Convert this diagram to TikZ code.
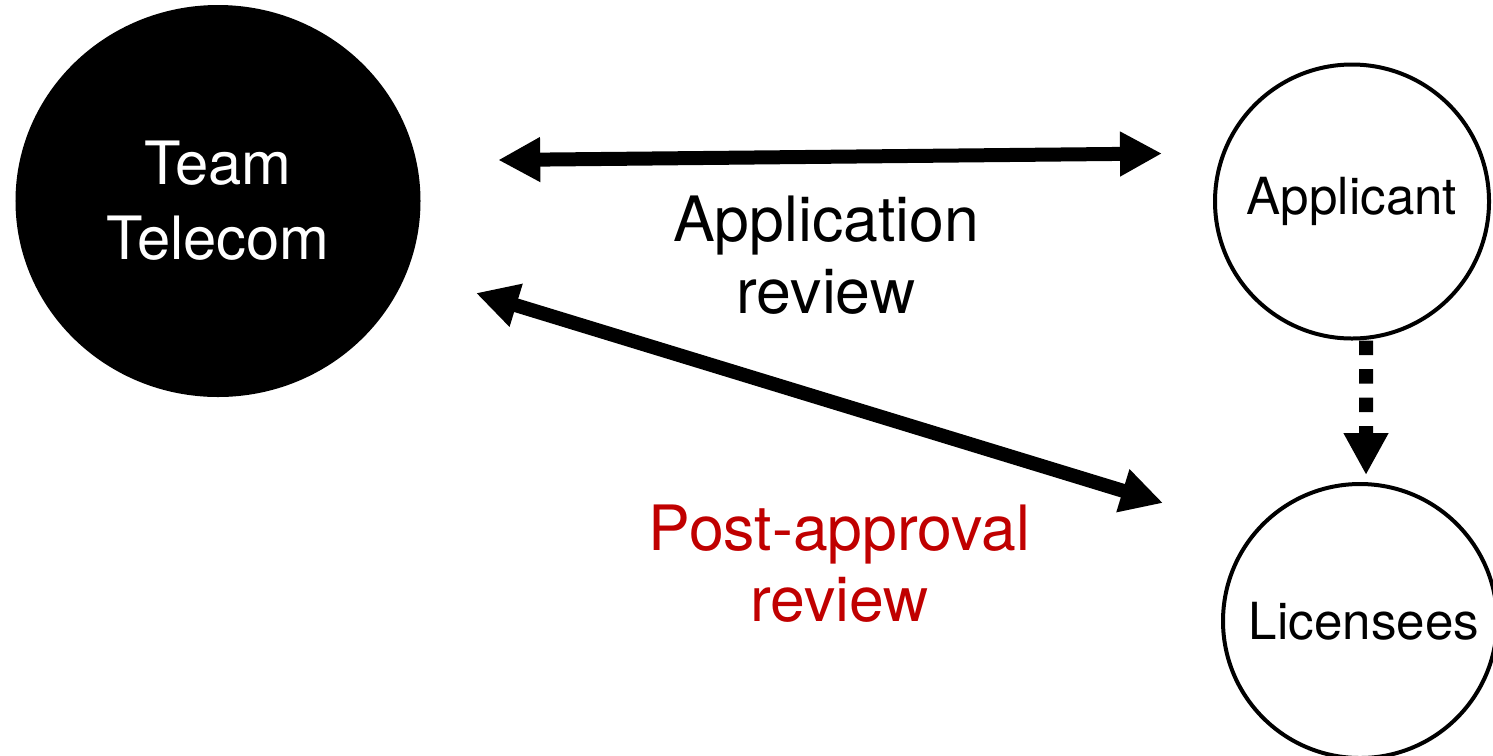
\documentclass[tikz,border=0pt]{standalone}
\usepackage{fontspec}
\setmainfont{TeX Gyre Heros}
\usepackage{xcolor}
\usetikzlibrary{arrows.meta,shapes.geometric,calc}
\definecolor{reviewred}{RGB}{192,0,0}
\tikzset{
	party/.style={circle, draw, line width=0.04cm, minimum size=2.74cm, inner sep=0pt, font=\fontsize{14.55}{17}\selectfont},
	biarrow/.style={{Triangle[length=0.42cm,width=0.42cm]}-{Triangle[length=0.42cm,width=0.42cm]}, line width=0.14cm},
	reviewlabel/.style={align=center, font=\fontsize{17.8}{20.4}\selectfont}
}

\begin{document}
\begin{tikzpicture}
		\useasboundingbox (0,0) rectangle (14.93,7.55);
		%Parties
		\node[ellipse, fill=black, text=white, minimum width=4.05cm, minimum height=3.92cm, inner sep=0pt, align=center, font=\fontsize{17}{21.3}\selectfont] (tt) at (2.18,5.54) {Team\\Telecom};
		\node[party] (app) at (13.52,5.535) {Applicant};
		\node[party] (lic) at (13.60,1.34) {\hspace{0.08cm}Licensees};
		%Arrows
		\draw[biarrow] ([shift={(0.77,0.41)}]tt.east) -- ([shift={(-0.51,0.48)}]app.west);
		\draw[biarrow] ([shift={(2.58,-0.92)}]tt.center) -- ([shift={(-0.58,1.18)}]lic.west);
		\draw[line width=0.14cm, dash pattern=on 0.145cm off 0.14cm, -{Triangle[length=0.42cm,width=0.42cm]}] ([xshift=0.14cm]app.south) -- ([shift={(0.06,0.07)}]lic.north);
		%Labels
		\node[reviewlabel] (appreview) at (8.26,4.995) {Application\\review};
		\node[reviewlabel, text=reviewred] (postreview) at (8.395,1.915) {Post-approval\\review};
	\end{tikzpicture}
\end{document}
